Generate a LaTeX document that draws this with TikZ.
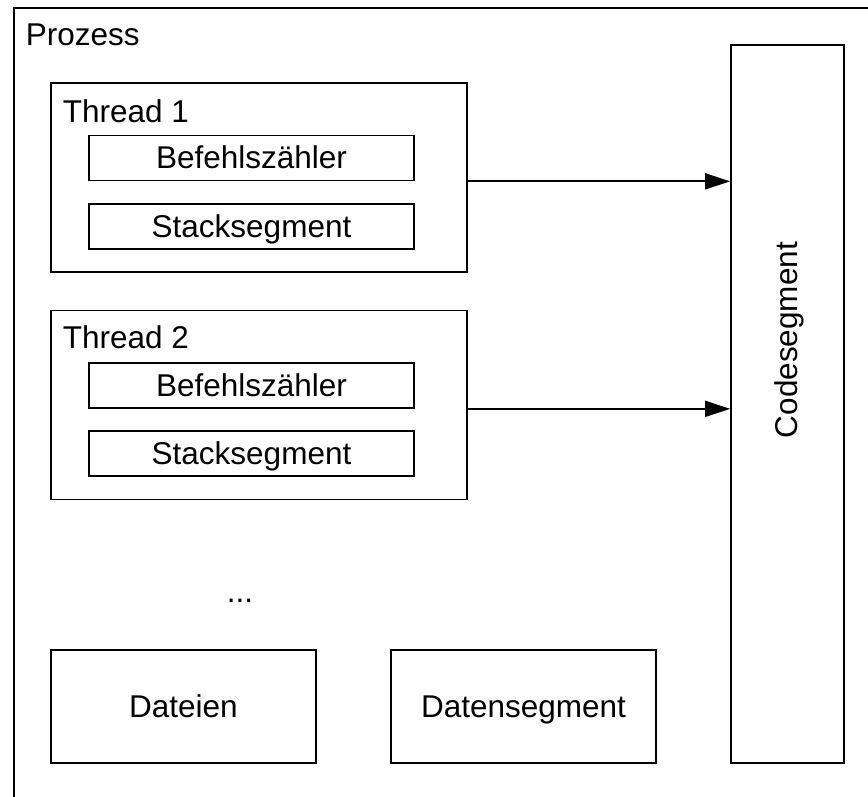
\documentclass[tikz,border=0pt]{standalone}
\usepackage{fontspec}
\setmainfont{Liberation Sans}
\usetikzlibrary{arrows.meta}

\begin{document}
\begin{tikzpicture}[x=1pt, y=-1pt, line width=1.7pt,
  font=\fontsize{31.5}{38}\selectfont,
  box/.style={draw, rectangle, inner sep=0pt, text height=22pt, text depth=0pt},
  reg/.style={box, minimum width=325pt, minimum height=45pt},
  thread/.style={box, minimum width=416pt, minimum height=189pt},
  seg/.style={box, minimum width=265pt, minimum height=113pt},
  txt/.style={inner sep=0pt}]
  \useasboundingbox (0,0) rectangle (868,797);

  \node[box, anchor=north west, minimum width=880pt, minimum height=820pt] (proc) at (13,7) {};
  \node[txt, anchor=base west] (proclabel) at (25,46) {Prozess};

  \node[thread] (t1) at (259,177.5) {};
  \node[txt, anchor=base west] (t1label) at (62,123) {Thread 1};
  \node[reg] (bz1) at (251.5,158) {Befehlsz\"ahler};
  \node[reg] (st1) at (251.5,226.5) {Stacksegment};

  \node[thread] (t2) at (259,405) {};
  \node[txt, anchor=base west] (t2label) at (62,348) {Thread 2};
  \node[reg] (bz2) at (251.5,385.5) {Befehlsz\"ahler};
  \node[reg] (st2) at (251.5,453.5) {Stacksegment};

  \node[txt, anchor=base] (more) at (240,602) {...};

  \node[seg] (files) at (183.5,706.5) {Dateien};
  \node[seg] (data) at (523.5,706.5) {Datensegment};

  \node[box, minimum width=113pt, minimum height=718pt] (code) at (787.5,404) {};
  \node[txt, rotate=90] (codelabel) at (789,340) {Codesegment};

  \path[-{Triangle[length=25pt, width=16pt]}]
  (t1.east |- bz1.south) edge (code.west |- bz1.south)
  (t2.east |- bz2.south) edge (code.west |- bz2.south)
  ;
\end{tikzpicture}
\end{document}
